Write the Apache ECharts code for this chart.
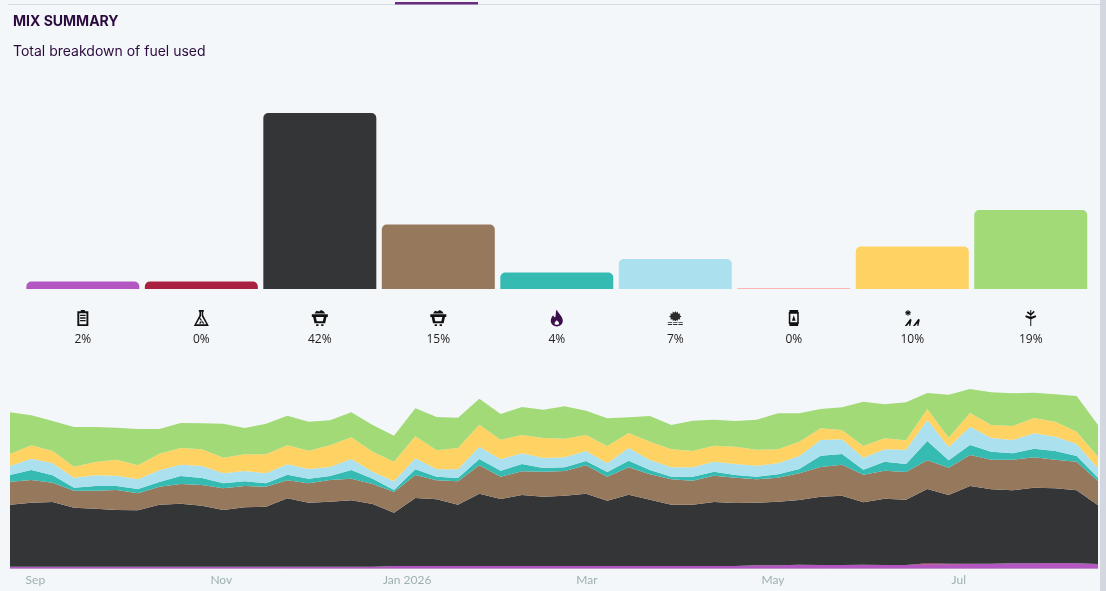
<!DOCTYPE html>
<html>
<head>
<meta charset="utf-8">
<style>html,body{margin:0;padding:0;background:#f4f7fa}#c{width:1106px;height:591px}</style>
<script src="https://cdn.jsdelivr.net/npm/echarts@6/dist/echarts.min.js"></script>
</head>
<body>
<div id="c"></div>
<script>
const fuels = ['Battery','Pumped hydro','Black coal','Brown coal','Gas','Hydro','Oil','Solar','Wind'];
const colors = ['#b456c2','#a8213f','#343537','#96785c','#36bbb3','#abe0ef','#ffb3b3','#ffd363','#a2da78'];
const barValues = [7.5,7.5,176,64.5,16.5,30,1,42.5,79];
const percentLabels = ['2%','0%','42%','15%','4%','7%','0%','10%','19%'];

const startDate = Date.UTC(2025,7,24);
const weekCount = 52;

const battery = [6,6,6,6,6,6,6,6,6,6,6,6,6,6,6,6,6,6,8,8,8,8,8,8,8,8,8,8,8,8,8,8,8,8,8,10,10,12,11,11,12,11,11,13,13,14,15,16,16,17,16,14];
const pumped  = [0,0,0,0,0,0,0,0,0,0,0,0,0,0,0,0,0,0,0,0,0,0,0,0,0,0,0,0,0,0,0,0,0,0,0,0,0,0,0,0,0,0,0,3,2,1,0,0,0,0,0,0];
const black   = [186,192,194,177,174,170,169,186,189,183,170,178,180,205,192,195,199,188,160,204,200,184,217,201,213,208,211,217,196,214,199,184,184,192,189,188,191,194,205,208,187,199,196,223,206,233,223,219,227,224,219,176];
const brown   = [69,68,58,51,54,60,51,54,59,62,65,64,60,54,58,65,65,60,62,69,57,70,85,67,71,75,74,85,72,82,76,76,72,79,76,70,72,80,89,93,83,84,83,86,82,93,89,92,91,86,86,73];
const gas     = [20,30,22,9,14,12,13,14,24,21,15,14,10,17,14,12,26,16,6,17,11,10,19,18,22,11,11,13,14,20,13,8,12,12,8,8,10,13,34,32,15,27,24,58,22,30,24,19,26,26,17,10];
const hydro   = [27,34,36,30,32,31,29,35,34,36,30,31,30,31,29,27,33,21,26,33,22,26,37,34,32,30,30,30,26,38,30,28,28,30,33,33,33,39,47,44,36,37,43,63,40,55,41,40,46,43,36,28];
const oil     = [0,0,0,0,0,0,0,0,0,0,0,0,0,0,0,0,0,0,0,0,0,0,0,0,0,0,0,0,0,0,0,0,0,0,0,0,0,0,0,0,0,0,0,0,0,0,0,0,0,0,0,0];
const solar   = [36,40,37,33,40,48,42,50,50,50,47,50,57,57,55,65,65,60,59,66,57,64,66,59,55,60,56,48,52,45,55,54,49,48,52,48,42,43,35,28,35,33,28,33,28,41,39,42,46,45,37,35];
const wind    = [125,90,90,119,105,96,109,74,75,78,102,79,92,89,87,75,75,80,78,84,100,91,78,77,84,85,97,73,83,47,77,73,91,78,77,90,108,85,58,68,133,102,114,48,129,72,98,98,76,82,107,95];
const mixSeries = [battery,pumped,black,brown,gas,hydro,oil,solar,wind];

const cart = 'path://M0 7H24V11H22L20 20H4L2 11H0ZM6 11L7.5 17H16.5L18 11ZM4 6L7 2L11 3L14 1L18 3L20 6ZM6.5 21.5H10V24H6.5ZM14 21.5H17.5V24H14Z';
const icons = [
 {p:'path://M8 0H14V2H19V24H3V2H8ZM5.8 4.8V21.2H16.2V4.8ZM7 7H15V9H7ZM7 11H15V13H7ZM7 15H15V17H7Z',s:[11,16],c:'#111'},
 {p:'path://M8 0H16V2.5H15V8L24 24H0L9 8V2.5H8ZM11.5 2.5V9L4 21.5H20L12.5 9V2.5ZM9.5 11L16.5 20L15 21L8.5 12.5ZM13 15L8.5 19.5L10 21L14 16.5Z',s:[15,16],c:'#111'},
 {p:cart,s:[16,16],c:'#111'},
 {p:cart,s:[16,16],c:'#111'},
 {p:'path://M12 0C13 5 20 9 20 16C20 21 16 24 12 24C8 24 4 21 4 16C4 12 6 10 7 8C8 10 9 11 10 11C11 8 10 4 12 0ZM12 15C10 17 9 18 9 20C9 22 15 22 15 20C15 18 14 17 12 15Z',s:[12,17],c:'#3a0f4a'},
 {p:'path://M12 0L13.5 3L16 1L16.5 4.5L20 4L19 7L22 9L19 11L20 14L16.5 13.5L16 16L13.5 15L12 17L10.5 15L8 16L7.5 13.5L4 14L5 11L2 9L5 7L4 4L7.5 4.5L8 1L10.5 3ZM0 18H7V19.5H0ZM8.5 18H15.5V19.5H8.5ZM17 18H24V19.5H17ZM0 21.5H7V23H0ZM8.5 21.5H15.5V23H8.5ZM17 21.5H24V23H17Z',s:[15,14],c:'#2a2a2a'},
 {p:'path://M5 0H19V3H20V21H19V24H5V21H4V3H5ZM6.5 5.5V18.5H17.5V5.5ZM12 8L15 16H9Z',s:[10,16],c:'#111'},
 {p:'path://M6 0H7.5V2.5L9.5 1L10.5 2L8.5 3.5H11V5H8.5L10.5 6.5L9.5 7.5L7.5 6V8.5H6V6L4 7.5L3 6.5L5 5H2.5V3.5H5L3 2L4 1L6 2.5ZM2 24L10 13L12 14.5L10 24H8.5L8.5 20L5 24ZM14 24L22 13L24 14.5L22 24H20.5L20.5 20L17 24Z',s:[15,16],c:'#111'},
 {p:'path://M11 0H13V24H11ZM13 5L18 1L20 3L13 8ZM11 5L6 2L4 4L11 8ZM13 10L22 8L23 10.5L13 14ZM11 10L2 8L1 10.5L11 14Z',s:[11,16],c:'#111'}
];

const dates = [];
for (let i = 0; i < weekCount; i++) dates.push(startDate + i * 7 * 86400000);

const MONTHS = ['Jan','Feb','Mar','Apr','May','Jun','Jul','Aug','Sep','Oct','Nov','Dec'];
const chart = echarts.init(document.getElementById('c'), null, {renderer:'canvas'});
chart.setOption({
  animation:false,
  useUTC:true,
  backgroundColor:'#f4f7fa',
  textStyle:{fontFamily:'"Open Sans",sans-serif'},
  title:[
    {text:'MIX SUMMARY',left:13,top:14,padding:0,textStyle:{fontFamily:'Inter',fontSize:14,fontWeight:700,color:'#2b0a3d',lineHeight:16}},
    {text:'Total breakdown of fuel used',left:13,top:44,padding:0,textStyle:{fontFamily:'Inter',fontSize:14,fontWeight:400,color:'#2b0a3d',lineHeight:16}}
  ],
  graphic:[
    {type:'rect',shape:{x:8,y:4,width:1092,height:1},style:{fill:'#d5dbe5'},silent:true},
    {type:'rect',shape:{x:395,y:2,width:83,height:2.5},style:{fill:'#6a2c80'},silent:true},
    {type:'rect',shape:{x:1100,y:0,width:6,height:591},style:{fill:'#d3d8e0'},silent:true}
  ],
  grid:[
    {left:23.6,right:16,top:113,height:176},
    {left:23.6,right:16,top:310,height:16},
    {left:10,right:8,top:380,height:188.67}
  ],
  xAxis:[
    {gridIndex:0,type:'category',data:fuels,axisLine:{show:false},axisTick:{show:false},axisLabel:{show:false}},
    {gridIndex:1,type:'category',data:percentLabels,axisLine:{show:false},axisTick:{show:false},
      axisLabel:{interval:0,margin:8,fontSize:12,color:'#222',fontFamily:'"Open Sans",sans-serif'}},
    {gridIndex:2,type:'time',min:startDate,max:dates[weekCount-1],splitNumber:5,
      axisLine:{show:true,onZero:false,lineStyle:{color:'#d5dbe5',width:1}},axisTick:{show:false},splitLine:{show:false},
      axisLabel:{margin:5,fontSize:12,color:'#9db1ae',hideOverlap:false,showMinLabel:false,showMaxLabel:false,padding:[0,0,0,2],
        fontFamily:'Lato,sans-serif',
        formatter:function(v){const d=new Date(v);const m=MONTHS[d.getUTCMonth()];return d.getUTCMonth()===0?m+' '+d.getUTCFullYear():m;}}}
  ],
  yAxis:[
    {gridIndex:0,type:'value',min:0,max:176,show:false},
    {gridIndex:1,type:'value',min:0,max:1,show:false},
    {gridIndex:2,type:'value',min:0,max:566,show:false}
  ],
  series:[
    {type:'bar',xAxisIndex:0,yAxisIndex:0,barWidth:113,
      data:barValues.map((v,i)=>({value:v,itemStyle:{color:colors[i],borderRadius:[5,5,0,0]}}))},
    {type:'scatter',xAxisIndex:1,yAxisIndex:1,silent:true,
      data:icons.map((ic,i)=>({value:[i,0.5],symbol:ic.p,symbolSize:ic.s,itemStyle:{color:ic.c,opacity:1}}))}
  ].concat(mixSeries.map((vals,i)=>({
    name:fuels[i],type:'line',xAxisIndex:2,yAxisIndex:2,stack:'mix',symbol:'none',smooth:false,
    lineStyle:{width:0},areaStyle:{color:colors[i],opacity:1},itemStyle:{color:colors[i]},
    data:vals.map((v,j)=>[dates[j],v])
  })))
});
</script>
</body>
</html>
